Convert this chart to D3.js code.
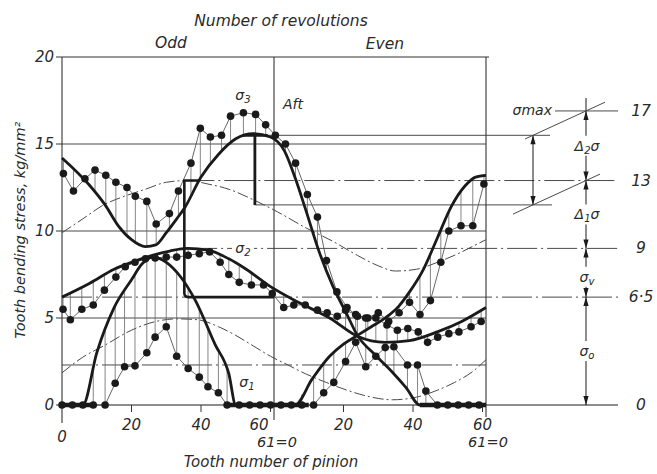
<!DOCTYPE html>
<html>
<head>
<meta charset="utf-8">
<script src="https://cdn.jsdelivr.net/npm/d3@7"></script>
<style>
  body { margin: 0; background: #fff; }
  text { font-family: "DejaVu Sans", sans-serif; font-style: italic; fill: #2a2a2a; }
</style>
</head>
<body>
<div id="chart"></div>
<script>
// measured stresses, three series, tooth numbers run 0..122 over two revolutions (61 teeth each)
const teeth3 = [0.4,3.3,6.6,9.5,12.6,15.5,18.7,21.1,24.4,27.1,30.9,33.5,37.1,39.8,42.7,45.9,48.5,52.2,55.7,58.6,61.4,64.3,67.2,70.6,73.5,76.1,79.1,82,85,88,91,94,97,100,103,106,109,111.3,114.8,118.2,121.4];
const sigma3 = [13.3,12.3,13.0,13.5,13.2,12.8,12.5,12.0,11.7,10.4,11.0,12.3,13.9,15.9,15.4,15.5,16.6,16.8,16.7,16.1,15.5,15.0,13.9,12.1,10.8,8.3,6.5,5.6,5.1,5.0,5.3,4.8,5.3,5.9,5.2,6.0,8.2,10.0,10.3,10.3,12.7];
const teeth2 = [0.3,2.4,5.7,9,12.2,15.5,18.2,21,24,26.8,30,33,36.3,39.5,42.5,45.5,48,51,54.5,58,60.5,63.8,66.7,70,73.5,76.3,79.2,81.6,84.5,87.4,90.3,93.5,96.5,99.5,102.5,105.2,108.1,111.3,114.2,117.7,120.6];
const sigma2 = [5.5,4.9,5.5,5.75,6.6,7.35,7.95,8.2,8.4,8.45,8.5,8.5,8.6,8.7,8.8,8.2,7.5,7.05,6.9,6.9,6.4,5.6,5.75,5.75,5.45,5.3,5.1,5.45,5.2,5.0,5.0,4.6,4.3,4.4,4.2,3.6,3.9,4.1,4.2,4.5,4.8];
const teeth1 = [0,3,6,9,12.4,15.3,18,21,24.4,26.8,30,33,36.3,39.5,42,45,47.5,51,54,57,60,63,66,69,72.4,75.3,78.2,81.6,84.5,87.4,90.3,93,95.5,99.4,102.3,104.7,108,111,114,117,120];
const sigma1 = [0,0,0,0,0,1.25,2.2,2.25,3.0,3.9,4.5,2.8,2.1,1.6,1.05,0.7,0,0,0,0,0,0,0,0,0,0.7,1.3,2.5,3.6,2.2,2.8,3.3,3.35,2.3,2.3,0.8,0,0,0,0,0];

// calculated curves [tooth, stress]
const curveS3 = [[0,14.2],[7.6,12.7],[12.4,11.5],[16.2,10.3],[20,9.5],[24,9.1],[27,9.2],[30,9.9],[33,10.7],[35.2,11.3],[40,13.1],[45,14.4],[50,15.3],[55,15.6],[60,15.4],[64,14.6],[67,13.1],[70,11.3],[74,8.8],[78,6.8],[82,5.2],[85,4.0],[90,2.9],[95,1.9],[99,1.0],[103,0],[122,0]];
const curveS2 = [[0,6.2],[8,7.0],[15,7.8],[20,8.2],[26,8.6],[31,8.85],[36,9.0],[42,8.9],[48,8.4],[53,7.8],[60,6.8],[68,5.9],[77,5.0],[85,3.95],[93,3.6],[100,3.7],[108,4.2],[115,4.8],[122,5.6]];
const curveS1 = [[0,0],[6,0],[10,3.0],[15,5.6],[20,7.2],[23,8.1],[26,8.5],[30,8.2],[34,7.4],[38.4,6.0],[44,3.5],[48,1.8],[50,0],[67,0],[72,1.5],[77,2.8],[81,3.5],[85,4.0],[89,4.5],[93,5.0],[97,5.7],[100,6.5],[104,7.8],[108,9.6],[112,11.4],[116,12.6],[119,13.1],[122,13.2]];
const waveUpper = [[0,9.9],[6,10.7],[12,11.5],[18,12.0],[24,12.4],[30,12.8],[36,12.9],[42,12.7],[48,12.4],[55,11.8],[62,11.1],[70,10.2],[78,9.4],[85,8.6],[91,8.0],[96,7.7],[102,7.8],[108,8.2],[114,8.7],[118,9.1],[122,9.5]];
const waveLower = [[0,1.85],[6,2.75],[12,3.4],[20,4.3],[27,4.8],[33,4.95],[39,4.9],[45,4.5],[50,4.0],[55,3.4],[60,2.8],[65,2.3],[70,1.8],[76,1.3],[82,0.85],[88,0.5],[95,0.3],[102,0.45],[108,0.85],[113,1.3],[118,1.9],[122,2.6]];
// stretches of teeth where sigma 1 stays at zero
const zeroBands = [[0, 9.5], [48, 71], [103, 122]];

const gridLevels = [5, 10, 15];
const levelValues = [0, 6.2, 9, 12.9, 16.9];
const levelLabels = ["0", "6·5", "9", "13", "17"];
const sigma3Range = [11.5, 15.5];
const dashLevel = 2.3;
const yTicks = [0, 5, 10, 15, 20];
const xTicks = [20, 40, 60, 81, 101, 121];
const xTickLabels = ["20", "40", "60", "20", "40", "60"];
const revolution = 61;

const svg = d3.select("#chart").append("svg").attr("width", 657).attr("height", 474);
const x = d3.scaleLinear().domain([0, 2 * revolution]).range([62, 486]);
const y = d3.scaleLinear().domain([0, 20]).range([405, 57]);

const xAnn = 586, xRng = 533, xEnd = 618;
const ink = "#1a1a1a", thin = "#4a4a4a";

const line = d3.line().x(d => x(d[0])).y(d => y(d[1])).curve(d3.curveMonotoneX);

function valueAt(pts, t) {
  const i = d3.bisector(d => d[0]).right(pts, t);
  if (i <= 0) return pts[0][1];
  if (i >= pts.length) return pts[pts.length - 1][1];
  const a = pts[i - 1], b = pts[i];
  return a[1] + (b[1] - a[1]) * (t - a[0]) / (b[0] - a[0]);
}

function hline(v, x0, x1, opts) {
  svg.append("line").attr("x1", x0).attr("x2", x1).attr("y1", y(v)).attr("y2", y(v))
    .attr("stroke", opts.color || thin).attr("stroke-width", opts.w || 1)
    .attr("stroke-dasharray", opts.dash || null);
}

function arrow(xp, yTip, dir) {
  // dir -1 points up, +1 points down
  const b = yTip - dir * 9;
  svg.append("path").attr("d", `M${xp},${yTip}L${xp - 2.6},${b}L${xp + 2.6},${b}Z`).attr("fill", ink);
}

function rich(xp, yp, parts, anchor, size) {
  const fs = size || 14;
  const t = svg.append("text").attr("x", xp).attr("y", yp)
    .attr("text-anchor", anchor || "start").attr("font-size", fs);
  let shift = 0;
  parts.forEach(p => {
    const sub = p[1] === "sub";
    const target = sub ? 3 : 0;
    t.append("tspan").text(p[0]).attr("dy", target - shift)
      .attr("font-size", sub ? fs * 0.72 : null);
    shift = target;
  });
  return t;
}

const dashDot = "30,4,2,4";

// grid and reference lines
gridLevels.forEach(v => hline(v, x(0), x(122), {}));
hline(dashLevel, x(0), x(122), { dash: dashDot });
hline(levelValues[1], x(0), xEnd, { dash: dashDot });
hline(levelValues[2], x(36), xEnd, { dash: dashDot });
hline(levelValues[3], x(35.2), xEnd, { dash: dashDot });
hline(sigma3Range[1], x(52), xRng + 17, {});
hline(sigma3Range[0], x(55.5), xRng + 19, {});
hline(levelValues[4], 555, xEnd, {});
hline(0, x(0), xEnd, { color: ink });
hline(20, x(0), x(122) + 3, { color: "#333" });

// frame verticals
[[0, 423], [revolution, 420], [2 * revolution, 417]].forEach(d => {
  svg.append("line").attr("x1", x(d[0])).attr("x2", x(d[0])).attr("y1", y(20)).attr("y2", d[1])
    .attr("stroke", "#333").attr("stroke-width", 1.1);
});

// ticks
yTicks.forEach(v => {
  svg.append("line").attr("x1", x(0) - 6).attr("x2", x(0)).attr("y1", y(v)).attr("y2", y(v)).attr("stroke", "#333");
  svg.append("text").attr("x", x(0) - 8).attr("y", y(v) + 5).attr("text-anchor", "end").attr("font-size", 15).text(v);
});
xTicks.forEach((t, i) => {
  svg.append("line").attr("x1", x(t)).attr("x2", x(t)).attr("y1", y(0)).attr("y2", y(0) + 7).attr("stroke", "#333");
  const lab = svg.append("text").attr("y", 430).attr("font-size", 15).text(xTickLabels[i]);
  if (t === 60) lab.attr("x", x(t) - 2).attr("text-anchor", "end");
  else lab.attr("x", x(t)).attr("text-anchor", "middle");
});
svg.append("text").attr("x", x(0)).attr("y", 442).attr("text-anchor", "middle").attr("font-size", 15).text("0");
svg.append("text").attr("x", x(revolution) + 3).attr("y", 447).attr("text-anchor", "middle").attr("font-size", 14.5).text("61=0");
svg.append("text").attr("x", x(2 * revolution) + 2).attr("y", 447).attr("text-anchor", "middle").attr("font-size", 14.5).text("61=0");

// dash-dot harmonic curves
[waveUpper, waveLower].forEach(c => {
  svg.append("path").attr("d", line(c)).attr("fill", "none").attr("stroke", thin)
    .attr("stroke-width", 1).attr("stroke-dasharray", "11,3,2,3");
});

// stems from measured points down/up to their curve
const series = [
  { t: teeth3, v: sigma3, curve: t => t < 85 ? curveS3 : curveS1 },
  { t: teeth2, v: sigma2, curve: () => curveS2 },
  { t: teeth1, v: sigma1, curve: t => t < 85 ? curveS1 : curveS3 }
];
series.forEach(s => {
  const pts = d3.zip(s.t, s.v);
  pts.forEach(p => {
    const target = valueAt(s.curve(p[0]), p[0]);
    svg.append("line").attr("x1", x(p[0])).attr("x2", x(p[0])).attr("y1", y(p[1])).attr("y2", y(target))
      .attr("stroke", "#666").attr("stroke-width", 0.8);
  });
  svg.append("path").attr("d", d3.line().x(d => x(d[0])).y(d => y(d[1]))(pts))
    .attr("fill", "none").attr("stroke", "#555").attr("stroke-width", 0.9);
});

// thick calculated curves
[curveS3, curveS2, curveS1].forEach(c => {
  svg.append("path").attr("d", line(c)).attr("fill", "none").attr("stroke", ink)
    .attr("stroke-width", 2.8).attr("stroke-linejoin", "round");
});
zeroBands.forEach(b => {
  svg.append("line").attr("x1", x(b[0])).attr("x2", x(b[1])).attr("y1", y(0)).attr("y2", y(0))
    .attr("stroke", ink).attr("stroke-width", 4.5);
});

// thick step marks
svg.append("path")
  .attr("d", `M${x(39.8)},${y(12.9)}L${x(35.2)},${y(12.9)}L${x(35.2)},${y(6.2) - 4}Q${x(35.2)},${y(6.2)} ${x(35.2) + 4},${y(6.2)}L${x(revolution)},${y(6.2)}`)
  .attr("fill", "none").attr("stroke", ink).attr("stroke-width", 2.6);
svg.append("path")
  .attr("d", `M${x(52)},${y(15.5)}L${x(59.2)},${y(15.5)}M${x(55.5)},${y(15.5)}L${x(55.5)},${y(11.5)}`)
  .attr("fill", "none").attr("stroke", ink).attr("stroke-width", 2.8);

// measured dots
series.forEach(s => {
  svg.selectAll(null).data(d3.zip(s.t, s.v)).enter().append("circle")
    .attr("cx", d => x(d[0])).attr("cy", d => y(d[1])).attr("r", 3.8).attr("fill", ink);
});

// curve labels
svg.append("rect").attr("x", 232).attr("y", y(9) - 8).attr("width", 22).attr("height", 15).attr("fill", "#fff");
rich(243, y(9) + 5, [["σ"], ["2", "sub"]], "middle");
rich(243, 100, [["σ"], ["3", "sub"]], "middle");
rich(247, 387, [["σ"], ["1", "sub"]], "middle");
svg.append("text").attr("x", 283).attr("y", 109).attr("font-size", 14).text("Aft");

// titles
svg.append("text").attr("x", 281).attr("y", 26).attr("text-anchor", "middle").attr("font-size", 15.5).text("Number of revolutions");
svg.append("text").attr("x", 171).attr("y", 48).attr("text-anchor", "middle").attr("font-size", 15.5).text("Odd");
svg.append("text").attr("x", 385).attr("y", 49).attr("text-anchor", "middle").attr("font-size", 15.5).text("Even");
svg.append("text").attr("x", 271).attr("y", 467).attr("text-anchor", "middle").attr("font-size", 15).text("Tooth number of pinion");
svg.append("text").attr("transform", "translate(25,230) rotate(-90)").attr("text-anchor", "middle")
  .attr("font-size", 14.5).text("Tooth bending stress, kg/mm²");

// right-hand build-up of the maximum stress
const spanLabels = [
  [["σ"], ["o", "sub"]],
  [["σ"], ["v", "sub"]],
  [["Δ"], ["1", "sub"], ["σ"]],
  [["Δ"], ["2", "sub"], ["σ"]]
];
svg.append("line").attr("x1", xAnn).attr("x2", xAnn).attr("y1", y(levelValues[4]) - 13).attr("y2", y(levelValues[4]))
  .attr("stroke", ink);
for (let i = 0; i < levelValues.length - 1; i++) {
  const yLo = y(levelValues[i]), yHi = y(levelValues[i + 1]);
  const mid = (yLo + yHi) / 2 + (i === 1 ? 4 : 0);
  svg.append("line").attr("x1", xAnn).attr("x2", xAnn).attr("y1", yHi).attr("y2", mid - 10).attr("stroke", ink);
  svg.append("line").attr("x1", xAnn).attr("x2", xAnn).attr("y1", mid + 10).attr("y2", yLo).attr("stroke", ink);
  arrow(xAnn, yHi, -1);
  arrow(xAnn, yLo, 1);
  rich(xAnn + 1, mid + 5, spanLabels[i], "middle");
}
levelValues.forEach((v, i) => {
  svg.append("text").attr("x", 641).attr("y", y(v) + 5).attr("text-anchor", "middle").attr("font-size", 15.5).text(levelLabels[i]);
});
rich(552, y(levelValues[4]) + 4, [["σ"], ["max"]], "end");

// range of sigma 3 and its projection to the levels
svg.append("line").attr("x1", xRng).attr("x2", xRng).attr("y1", y(sigma3Range[1])).attr("y2", y(sigma3Range[0])).attr("stroke", ink);
arrow(xRng, y(sigma3Range[1]), -1);
arrow(xRng, y(sigma3Range[0]), 1);
[[sigma3Range[1], levelValues[4], 8, 19], [sigma3Range[0], levelValues[3], 20, 14]].forEach(d => {
  const k = (y(d[1]) - y(d[0])) / (xAnn - xRng);
  const x0 = xRng - d[2], x1 = xAnn + d[3];
  svg.append("line").attr("x1", x0).attr("y1", y(d[0]) - k * d[2]).attr("x2", x1).attr("y2", y(d[1]) + k * d[3])
    .attr("stroke", thin);
});
</script>
</body>
</html>
